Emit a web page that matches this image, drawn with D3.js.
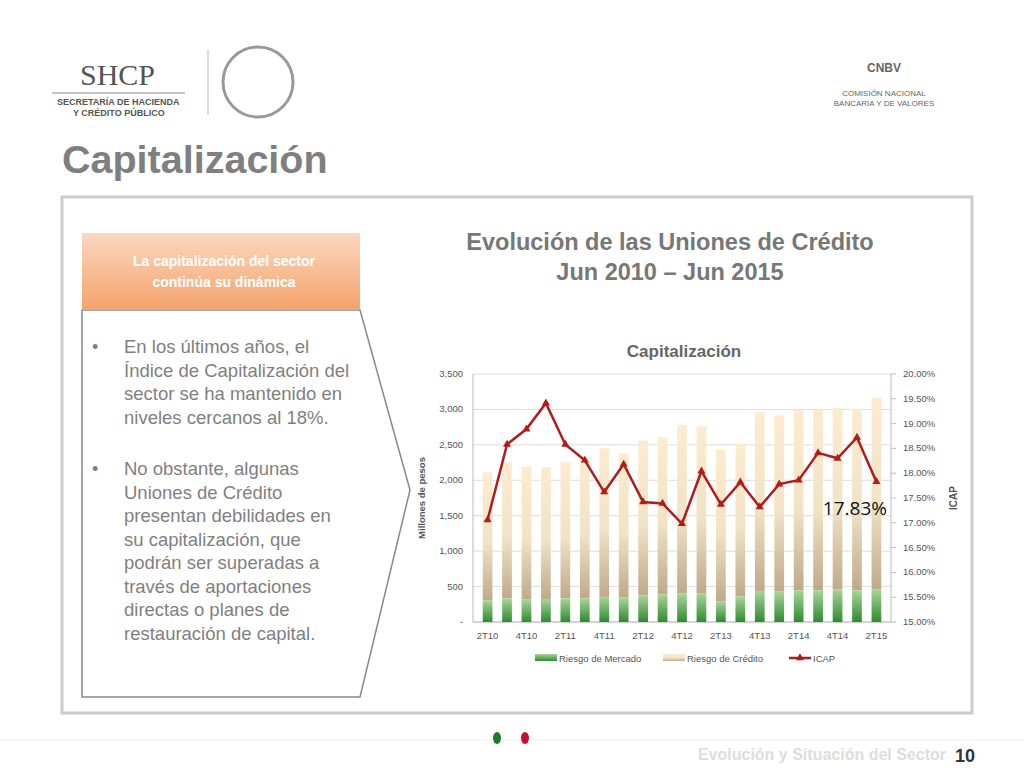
<!DOCTYPE html><html><head><meta charset="utf-8"><script src="https://cdn.jsdelivr.net/npm/d3@7"></script>
<style>body{margin:0;background:#fff;font-family:"Liberation Sans",Arial,sans-serif}</style></head><body><svg id="s" width="1024" height="768"></svg><script>
const categories=["2T10","3T10","4T10","1T11","2T11","3T11","4T11","1T12","2T12","3T12","4T12","1T13","2T13","3T13","4T13","1T14","2T14","3T14","4T14","1T15","2T15"];
const tickLabels=["2T10","4T10","2T11","4T11","2T12","4T12","2T13","4T13","2T14","4T14","2T15"];
const riesgoMercado=[307,335,316,325,335,335,354,344,377,392,401,401,288,363,439,429,448,448,458,448,458];
const capitalTotal=[2113,2255,2193,2184,2255,2325,2453,2382,2561,2608,2783,2759,2429,2514,2962,2915,2995,2995,3019,3009,3165];
const riesgoCredito=capitalTotal.map((t,i)=>t-riesgoMercado[i]);
const icap=[17.06,18.58,18.89,19.41,18.58,18.26,17.62,18.18,17.42,17.39,16.98,18.04,17.37,17.82,17.32,17.78,17.86,18.41,18.30,18.72,17.83];
const svg=d3.select("#s");
const defs=svg.append("defs");
const g1=defs.append("linearGradient").attr("id","gm").attr("x1",0).attr("y1",0).attr("x2",0).attr("y2",1);
g1.append("stop").attr("offset","0").attr("stop-color","#a8d59a");g1.append("stop").attr("offset","1").attr("stop-color","#2e8b2e");
const g2=defs.append("linearGradient").attr("id","gc").attr("x1",0).attr("y1",0).attr("x2",0).attr("y2",1);
g2.append("stop").attr("offset","0").attr("stop-color","#fdebcf");g2.append("stop").attr("offset","0.55").attr("stop-color","#f1e3c6");g2.append("stop").attr("offset","1").attr("stop-color","#bfa98a");
const g3=defs.append("linearGradient").attr("id","go").attr("x1",0).attr("y1",0).attr("x2",0).attr("y2",1);
g3.append("stop").attr("offset","0").attr("stop-color","#fbd8bf");g3.append("stop").attr("offset","1").attr("stop-color","#f4a26c");
svg.append("text").attr("x",80).attr("y",85).attr("font-size",30).attr("font-family","Liberation Serif").attr("fill","#555").text("SHCP");
svg.append("line").attr("x1",52).attr("x2",185).attr("y1",93).attr("y2",93).attr("stroke","#888");
svg.append("text").attr("x",57).attr("y",105).attr("font-size",9).attr("font-weight","bold").attr("fill","#555").text("SECRETARÍA DE HACIENDA");
svg.append("text").attr("x",73).attr("y",116).attr("font-size",9).attr("font-weight","bold").attr("fill","#555").text("Y CRÉDITO PÚBLICO");
svg.append("line").attr("x1",208).attr("x2",208).attr("y1",50).attr("y2",115).attr("stroke","#bbb");
svg.append("circle").attr("cx",258).attr("cy",82).attr("r",35).attr("fill","none").attr("stroke","#999").attr("stroke-width",3);
svg.append("text").attr("x",884).attr("y",72).attr("text-anchor","middle").attr("font-size",12).attr("font-weight","bold").attr("fill","#666").text("CNBV");
svg.append("text").attr("x",884).attr("y",96).attr("text-anchor","middle").attr("font-size",8).attr("fill","#666").text("COMISIÓN NACIONAL");
svg.append("text").attr("x",884).attr("y",106).attr("text-anchor","middle").attr("font-size",8).attr("fill","#666").text("BANCARIA Y DE VALORES");
svg.append("text").attr("x",62).attr("y",173).attr("font-size",39.5).attr("font-weight","bold").attr("fill","#7f7f7f").text("Capitalización");
svg.append("rect").attr("x",62).attr("y",197).attr("width",910).attr("height",516).attr("fill","#fff").attr("stroke","#ccc").attr("stroke-width",3);
svg.append("path").attr("d","M82,310 L360,310 L410,490 L360,697 L82,697 Z").attr("fill","#fff").attr("stroke","#888").attr("stroke-width",1.5);
svg.append("rect").attr("x",82).attr("y",233).attr("width",278).attr("height",77).attr("fill","url(#go)");
svg.append("text").attr("x",224).attr("y",266).attr("text-anchor","middle").attr("font-size",14).attr("font-weight","bold").attr("fill","#fff").text("La capitalización del sector");
svg.append("text").attr("x",224).attr("y",287).attr("text-anchor","middle").attr("font-size",14).attr("font-weight","bold").attr("fill","#fff").text("continúa su dinámica");
const lines1=["En los últimos años, el","Índice de Capitalización del","sector se ha mantenido en","niveles cercanos al 18%."];
const lines2=["No obstante, algunas","Uniones de Crédito","presentan debilidades en","su capitalización, que","podrán ser superadas a","través de aportaciones","directas o planes de","restauración de capital."];
function para(lines,y0){svg.append("text").attr("x",92).attr("y",y0+15).attr("font-size",18).attr("fill","#7f7f7f").text("•");
lines.forEach((l,i)=>svg.append("text").attr("x",124).attr("y",y0+15+i*23.5).attr("font-size",18.5).attr("fill","#7f7f7f").text(l));}
para(lines1,338);para(lines2,460);
svg.append("text").attr("x",670).attr("y",250).attr("text-anchor","middle").attr("font-size",23.5).attr("font-weight","bold").attr("fill","#777").text("Evolución de las Uniones de Crédito");
svg.append("text").attr("x",670).attr("y",280).attr("text-anchor","middle").attr("font-size",23.5).attr("font-weight","bold").attr("fill","#777").text("Jun 2010 – Jun 2015");
svg.append("text").attr("x",684).attr("y",357).attr("text-anchor","middle").attr("font-size",17).attr("font-weight","bold").attr("fill","#666").text("Capitalización");
const L=473,R=891,T=374,B=622;
const x=d3.scaleBand().domain(categories).range([L,R]).padding(0.5);
const y=d3.scaleLinear().domain([0,3500]).range([B,T]);
const y2=d3.scaleLinear().domain([15,20]).range([B,T]);
y.ticks(7).forEach(t=>svg.append("line").attr("x1",L).attr("x2",R).attr("y1",y(t)).attr("y2",y(t)).attr("stroke","#ddd"));
svg.append("line").attr("x1",L).attr("x2",L).attr("y1",T).attr("y2",B).attr("stroke","#bbb");
svg.append("line").attr("x1",R).attr("x2",R).attr("y1",T).attr("y2",B).attr("stroke","#bbb");
svg.append("line").attr("x1",L).attr("x2",R).attr("y1",B).attr("y2",B).attr("stroke","#bbb");
const fmt=d3.format(",");
y.ticks(7).forEach(t=>svg.append("text").attr("x",L-10).attr("y",y(t)+3).attr("text-anchor","end").attr("font-size",9.5).attr("fill","#555").text(t===0?"-":fmt(t)));
d3.range(15,20.01,0.5).forEach(t=>{svg.append("line").attr("x1",R).attr("x2",R+5).attr("y1",y2(t)).attr("y2",y2(t)).attr("stroke","#bbb");
svg.append("text").attr("x",R+12).attr("y",y2(t)+3).attr("font-size",9.5).attr("fill","#555").text(t.toFixed(2)+"%");});
svg.append("text").attr("transform",`translate(425,${(T+B)/2}) rotate(-90)`).attr("text-anchor","middle").attr("font-size",9.5).attr("font-weight","bold").attr("fill","#555").text("Millones de pesos");
svg.append("text").attr("transform",`translate(957,${(T+B)/2}) rotate(-90)`).attr("text-anchor","middle").attr("font-size",10).attr("font-weight","bold").attr("fill","#555").text("ICAP");
categories.forEach((c,i)=>{
svg.append("rect").attr("x",x(c)).attr("width",x.bandwidth()).attr("y",y(capitalTotal[i])).attr("height",y(riesgoMercado[i])-y(capitalTotal[i])).attr("fill","url(#gc)");
svg.append("rect").attr("x",x(c)).attr("width",x.bandwidth()).attr("y",y(riesgoMercado[i])).attr("height",B-y(riesgoMercado[i])).attr("fill","url(#gm)");});
tickLabels.forEach(t=>svg.append("text").attr("x",x(t)+x.bandwidth()/2).attr("y",B+17).attr("text-anchor","middle").attr("font-size",9.5).attr("fill","#555").text(t));
const line=d3.line().x((d,i)=>x(categories[i])+x.bandwidth()/2).y(d=>y2(d));
svg.append("path").datum(icap).attr("d",line).attr("fill","none").attr("stroke","#b01c1c").attr("stroke-width",2.5);
icap.forEach((v,i)=>svg.append("path").attr("d",d3.symbol(d3.symbolTriangle,28)()).attr("transform",`translate(${x(categories[i])+x.bandwidth()/2},${y2(v)})`).attr("fill","#b01c1c"));
svg.append("text").attr("x",887).attr("y",515).attr("text-anchor","end").attr("font-size",19).attr("font-family","Open Sans").attr("fill","#111").text(icap[20].toFixed(2)+"%");
const lg=[["Riesgo de Mercado","url(#gm)","r",535],["Riesgo de Crédito","url(#gc)","r",663],["ICAP","#b01c1c","l",789]];
lg.forEach(d=>{if(d[2]==="r")svg.append("rect").attr("x",d[3]).attr("y",654).attr("width",22).attr("height",7).attr("fill",d[1]);
else{svg.append("line").attr("x1",d[3]).attr("x2",d[3]+22).attr("y1",658).attr("y2",658).attr("stroke",d[1]).attr("stroke-width",2.5);
svg.append("path").attr("d",d3.symbol(d3.symbolTriangle,28)()).attr("transform",`translate(${d[3]+11},658)`).attr("fill",d[1]);}
svg.append("text").attr("x",d[3]+24).attr("y",662).attr("font-size",9.5).attr("fill","#555").text(d[0]);});
svg.append("line").attr("x1",0).attr("x2",1024).attr("y1",740).attr("y2",740).attr("stroke","#eee");
svg.append("ellipse").attr("cx",497).attr("cy",738).attr("rx",4).attr("ry",6).attr("fill","#1a7a2e");
svg.append("ellipse").attr("cx",525).attr("cy",738).attr("rx",4).attr("ry",6).attr("fill","#c8102e");
svg.append("text").attr("x",946).attr("y",760).attr("text-anchor","end").attr("font-size",16).attr("font-weight","bold").attr("fill","#ddd").text("Evolución y Situación del Sector");
svg.append("text").attr("x",975).attr("y",762).attr("text-anchor","end").attr("font-size",18).attr("font-weight","bold").attr("fill","#333").text("10");
</script></body></html>
